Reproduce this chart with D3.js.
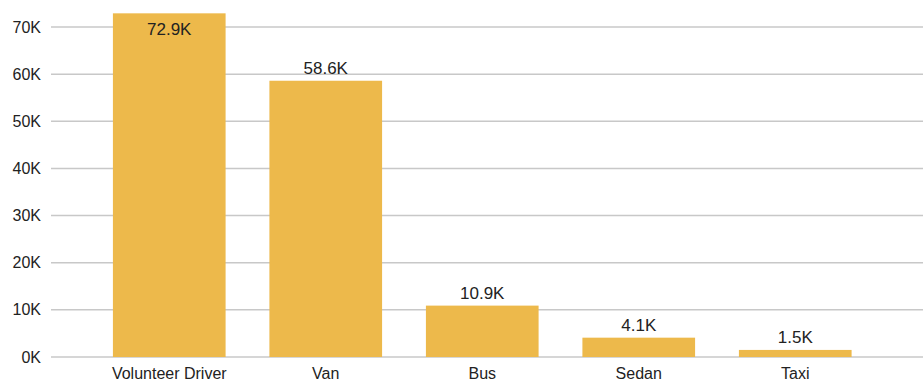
<!DOCTYPE html>
<html>
<head>
  <script src="https://d3js.org/d3.v7.min.js"></script>
  <style>
    body { margin: 0; background: #fff; }
    text { font-family: "Liberation Sans", Arial, sans-serif; fill: #222; }
    .grid line { stroke: #c8c8c8; stroke-width: 1.5px; }
    .bar { fill: #edb94b; }
  </style>
</head>
<body>
  <svg width="923" height="381"></svg>
  <script>
    var categories = ["Volunteer Driver", "Van", "Bus", "Sedan", "Taxi"];
    var values = [72900, 58600, 10900, 4100, 1500];
    var labels = ["72.9K", "58.6K", "10.9K", "4.1K", "1.5K"];
    var yTicks = [0, 10000, 20000, 30000, 40000, 50000, 60000, 70000];

    var svg = d3.select("svg");

    var x = d3.scaleBand()
      .domain(categories)
      .range([91, 873.5])
      .paddingInner(0.28)
      .paddingOuter(0.14);

    var y = d3.scaleLinear()
      .domain([0, 70000])
      .range([357, 27]);

    // gridlines
    svg.append("g")
      .attr("class", "grid")
      .selectAll("line")
      .data(yTicks)
      .enter().append("line")
      .attr("x1", 51)
      .attr("x2", 923)
      .attr("y1", function(d) { return y(d); })
      .attr("y2", function(d) { return y(d); });

    // y tick labels
    svg.append("g")
      .selectAll("text")
      .data(yTicks)
      .enter().append("text")
      .attr("x", 41)
      .attr("y", function(d) { return y(d); })
      .attr("dy", "0.35em")
      .attr("text-anchor", "end")
      .style("font-size", "16px")
      .text(function(d) { return (d / 1000) + "K"; });

    // bars
    svg.append("g")
      .selectAll("rect")
      .data(values)
      .enter().append("rect")
      .attr("class", "bar")
      .attr("x", function(d, i) { return x(categories[i]); })
      .attr("width", x.bandwidth())
      .attr("y", function(d) { return y(d); })
      .attr("height", function(d) { return y(0) - y(d); });

    // value labels (inside the bar when there is no room above)
    svg.append("g")
      .selectAll("text")
      .data(values)
      .enter().append("text")
      .attr("x", function(d, i) { return x(categories[i]) + x.bandwidth() / 2; })
      .attr("y", function(d) {
        return y(d) < 25 ? y(d) + 22 : y(d) - 7;
      })
      .attr("text-anchor", "middle")
      .style("font-size", "17px")
      .text(function(d, i) { return labels[i]; });

    // x labels
    svg.append("g")
      .selectAll("text")
      .data(categories)
      .enter().append("text")
      .attr("x", function(d) { return x(d) + x.bandwidth() / 2; })
      .attr("y", 379)
      .attr("text-anchor", "middle")
      .style("font-size", "16px")
      .text(function(d) { return d; });
  </script>
</body>
</html>
